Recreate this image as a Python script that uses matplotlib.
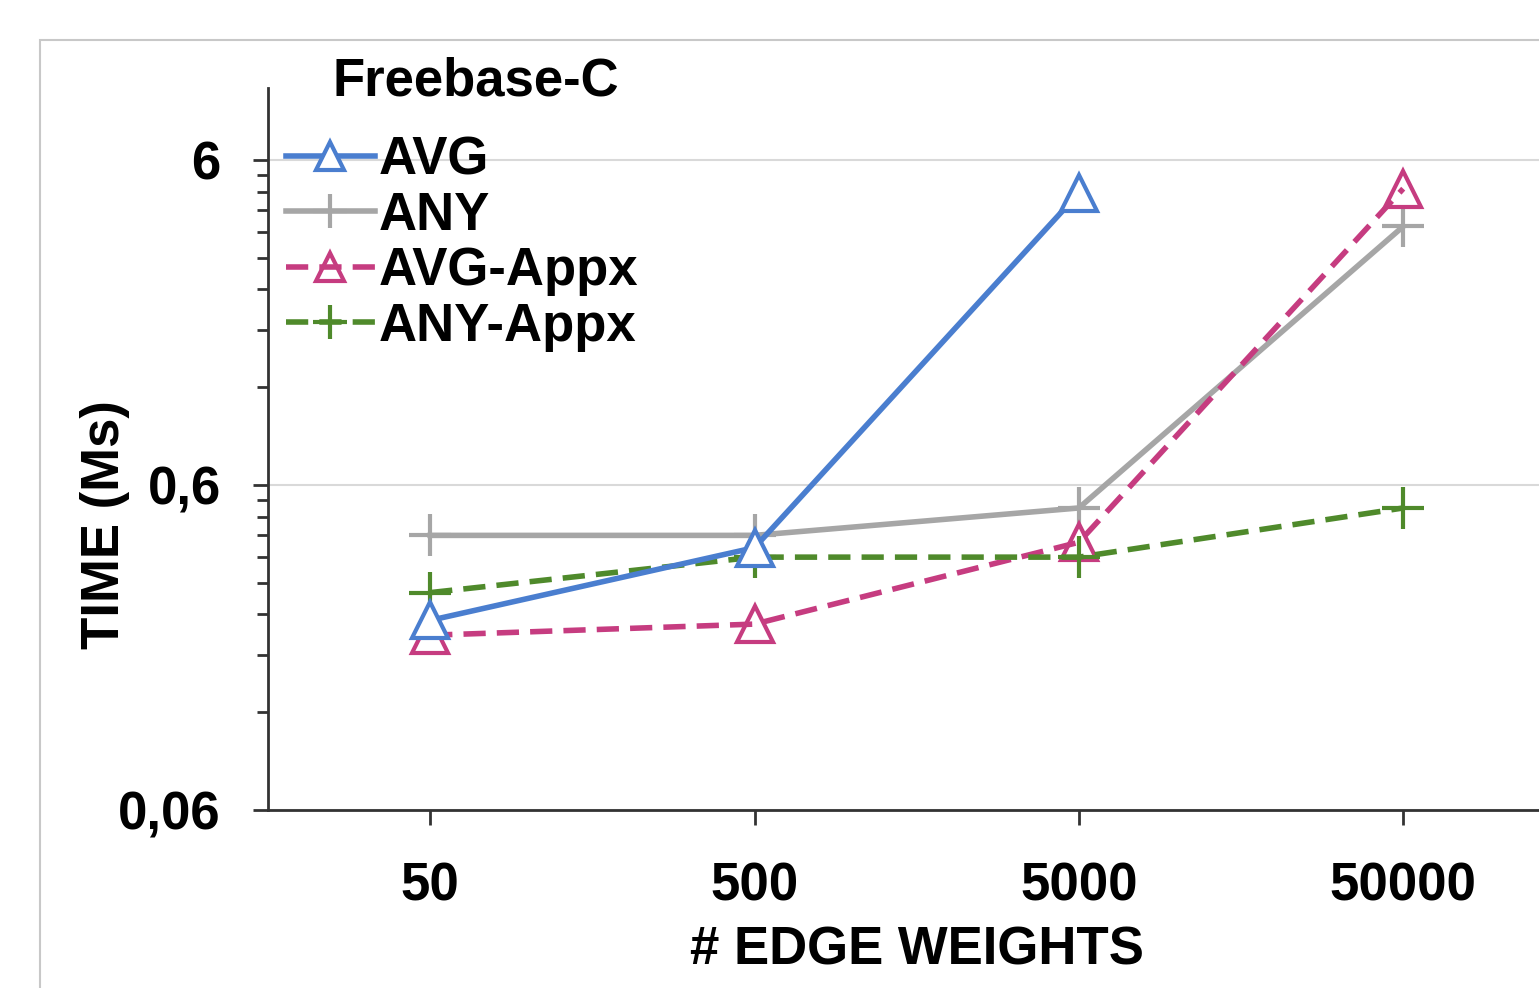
import matplotlib.pyplot as plt
from matplotlib.patches import Rectangle
from matplotlib.ticker import FixedLocator, NullFormatter

plt.rcParams['font.family'] = ['Liberation Sans', 'DejaVu Sans']
plt.rcParams['font.weight'] = 'bold'

edge_weights = ['50', '500', '5000', '50000']
avg = [0.23, 0.385, 4.75]
any_ = [0.42, 0.42, 0.51, 3.75]
avg_appx = [0.207, 0.224, 0.40, 4.9]
any_appx = [0.28, 0.36, 0.36, 0.51]

y_major = [0.06, 0.6, 6]
y_major_labels = ['0,06', '0,6', '6']

fig = plt.figure(figsize=(15.39, 9.88), dpi=100)
fig.patches.append(Rectangle((40 / 1539, -0.1), 1.2, 1 - 40 / 988 + 0.1,
                             transform=fig.transFigure, fill=False,
                             edgecolor='#c8c8c8', linewidth=1.5))

ax = fig.add_axes([268 / 1539, 1 - 810 / 988, 0.843, (810 - 88) / 988])
ax.set_yscale('log')
x = list(range(len(edge_weights)))

dash = (4, 2)
ax.plot(x[:3], avg, color='#4a7ecf', lw=4, marker='^', ms=26,
        mfc='white', mec='#4a7ecf', mew=3, label='AVG', zorder=5)
ax.plot(x, any_, color='#a6a6a6', lw=4, marker='+', ms=30,
        mew=3, label='ANY', zorder=3)
ax.plot(x, avg_appx, color='#c63c80', lw=4, ls=(0, dash), marker='^', ms=26,
        mfc='none', mec='#c63c80', mew=3, label='AVG-Appx', zorder=4)
ax.plot(x, any_appx, color='#4f8a2b', lw=4, ls=(0, dash), marker='+', ms=30,
        mew=3, label='ANY-Appx', zorder=4)

ax.set_xlim(-0.5, 3.5)
ax.set_ylim(0.06, 10)
ax.set_xticks(x)
ax.set_xticklabels(edge_weights)
ax.yaxis.set_major_locator(FixedLocator(y_major))
ax.set_yticklabels(y_major_labels)
minors = [b * k for b in (0.06, 0.6) for k in range(2, 10)]
ax.yaxis.set_minor_locator(FixedLocator(minors))
ax.yaxis.set_minor_formatter(NullFormatter())

for s in ['top', 'right']:
    ax.spines[s].set_visible(False)
for s in ['left', 'bottom']:
    ax.spines[s].set_linewidth(2)
    ax.spines[s].set_color('#333333')
ax.tick_params(axis='both', which='major', direction='out', length=11, width=2,
               color='#333333', labelsize=38)
ax.tick_params(axis='y', which='major', pad=23)
ax.tick_params(axis='y', which='minor', direction='out', length=8, width=2,
               color='#333333')
ax.tick_params(axis='x', pad=26)
ax.grid(axis='y', which='major', color='#d9d9d9', lw=1.5)
ax.set_axisbelow(True)

ax.set_xlabel('# EDGE WEIGHTS', fontsize=38, fontweight='bold', labelpad=10)
fig.text(105 / 1539, 1 - 525 / 988, 'TIME (Ms)', rotation=90, ha='center',
         va='center', fontsize=38, fontweight='bold')

fig.text(476 / 1539, 1 - 82 / 988, 'Freebase-C', ha='center', va='center',
         fontsize=38, fontweight='bold')
leg = ax.legend(loc='upper left', bbox_to_anchor=(0.0054, 0.9495), frameon=False,
                fontsize=38, handlelength=1.7, handletextpad=0.06,
                labelspacing=0.105, markerscale=0.8,
                borderaxespad=0, borderpad=0.2)

fig.savefig('out.png', dpi=100)
